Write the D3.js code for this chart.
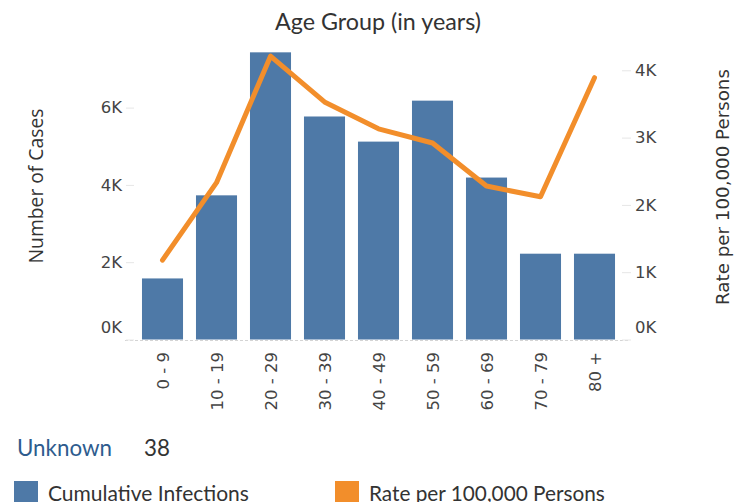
<!DOCTYPE html>
<html><head><meta charset="utf-8">
<script src="https://cdn.jsdelivr.net/npm/d3@7"></script>
<style>body{margin:0;background:#fff;}svg{display:block;}</style>
</head><body>
<script>
const categories = ["0 - 9","10 - 19","20 - 29","30 - 39","40 - 49","50 - 59","60 - 69","70 - 79","80 +"];
const cumulativeInfections = [1580, 3730, 7430, 5770, 5120, 6180, 4190, 2220, 2220];
const ratePer100k = [1180, 2330, 4210, 3530, 3130, 2920, 2280, 2120, 3890];
const leftTicks = [0, 2000, 4000, 6000];
const rightTicks = [0, 1000, 2000, 3000, 4000];
const unknownCount = 38;

const W = 734, H = 502;
const svg = d3.select("body").append("svg").attr("width", W).attr("height", H);
const axisFont = "DejaVu Sans, Verdana, sans-serif";
const uiFont = "Lato, 'Noto Sans', sans-serif";
const titleFont = "'Open Sans', 'Noto Sans', sans-serif";

// scale a text's font size so that its rendered width matches a target width
function fit(sel, target) {
  const n = sel.node();
  const fs = parseFloat(sel.attr("font-size"));
  const w = n.getComputedTextLength();
  if (w > 0) sel.attr("font-size", (fs * target / w).toFixed(2));
  return sel;
}

const x = d3.scaleBand().domain(categories).range([135.5, 621.5]).paddingInner(0.24).paddingOuter(0.12);
const yL = d3.scaleLinear().domain([0, 2000]).range([339.5, 262.2]);
const yR = d3.scaleLinear().domain([0, 1000]).range([339.5, 272.2]);

// title
fit(svg.append("text").attr("x", 378).attr("y", 30).attr("text-anchor", "middle")
  .attr("font-family", uiFont).attr("font-size", 20).attr("fill", "#333").text("Age Group (in years)"), 206);

// baseline dashed
svg.append("line").attr("x1", 125).attr("x2", 629).attr("y1", 340.5).attr("y2", 340.5)
  .attr("stroke", "#d4d4d4").attr("stroke-dasharray", "3,2");

// left axis
const ax = svg.append("g").attr("transform", "translate(134,0)")
  .call(d3.axisLeft(yL).tickValues(leftTicks).tickFormat(d => (d/1000) + "K").tickSize(8).tickPadding(4));
ax.select(".domain").remove();
ax.selectAll("line").attr("stroke", "#e6e6e6");
ax.selectAll("text").attr("font-family", axisFont).attr("font-size", 16.5).attr("fill", "#444");
ax.selectAll(".tick").filter(d => d === 0).select("text").attr("dy", "-0.4em");

// right axis
const ar = svg.append("g").attr("transform", "translate(622,0)")
  .call(d3.axisRight(yR).tickValues(rightTicks).tickFormat(d => (d/1000) + "K").tickSize(9).tickPadding(4));
ar.select(".domain").remove();
ar.selectAll("line").attr("stroke", "#e6e6e6");
ar.selectAll("text").attr("font-family", axisFont).attr("font-size", 16.5).attr("fill", "#444");
ar.selectAll(".tick").filter(d => d === 0).select("text").attr("dy", "-0.4em");

// axis titles
fit(svg.append("text").attr("transform", "translate(43,186) rotate(-90)").attr("text-anchor", "middle")
  .attr("font-family", titleFont).attr("font-size", 16).attr("fill", "#333").text("Number of Cases"), 155);
fit(svg.append("text").attr("transform", "translate(729,187) rotate(-90)").attr("text-anchor", "middle")
  .attr("font-family", axisFont).attr("font-size", 16).attr("fill", "#333").text("Rate per 100,000 Persons"), 236);

// bars
svg.append("g").selectAll("rect").data(categories).join("rect")
  .attr("x", d => x(d)).attr("width", x.bandwidth())
  .attr("y", (d, i) => yL(cumulativeInfections[i]))
  .attr("height", (d, i) => yL(0) - yL(cumulativeInfections[i]))
  .attr("fill", "#4e79a7");

// line
const line = d3.line().x((d, i) => x(categories[i]) + x.bandwidth() / 2).y(d => yR(d));
svg.append("path").datum(ratePer100k).attr("d", line).attr("fill", "none")
  .attr("stroke", "#f28e2b").attr("stroke-width", 5).attr("stroke-linejoin", "round").attr("stroke-linecap", "round");

// x labels
const ax2 = svg.append("g").attr("transform", "translate(0,340)")
  .call(d3.axisBottom(x).tickSize(0).tickPadding(0));
ax2.select(".domain").remove();
ax2.selectAll("text").attr("font-family", axisFont).attr("font-size", 16.5).attr("fill", "#444")
  .attr("text-anchor", "end").attr("dy", null)
  .attr("transform", "translate(6,12) rotate(-90)");

// unknown
const unk = fit(svg.append("text").attr("x", 17).attr("y", 456).attr("font-family", uiFont).attr("font-size", 20)
  .attr("fill", "#2e5c8e").text("Unknown"), 95);
svg.append("text").attr("x", 144).attr("y", 456).attr("font-family", uiFont).attr("font-size", unk.attr("font-size"))
  .attr("fill", "#333").text(unknownCount);

// legend
const legend = [["Cumulative Infections", "#4e79a7", 14, 201], ["Rate per 100,000 Persons", "#f28e2b", 335, 236]];
legend.forEach(([label, color, lx, tw]) => {
  svg.append("rect").attr("x", lx).attr("y", 481).attr("width", 24).attr("height", 21).attr("fill", color);
  fit(svg.append("text").attr("x", lx + 34).attr("y", 500.5).attr("font-family", uiFont).attr("font-size", 20)
    .attr("fill", "#333").text(label), tw);
});
</script>
</body></html>
